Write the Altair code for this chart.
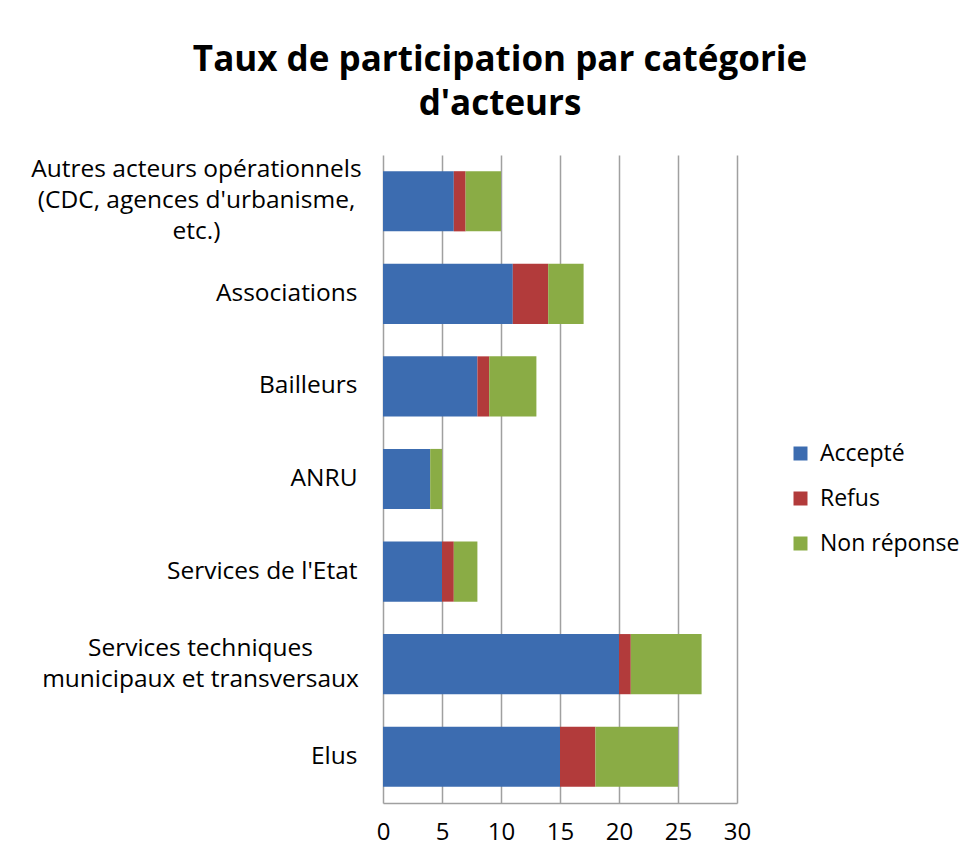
import altair as alt
import pandas as pd

categories = [
    "Autres acteurs opérationnels|(CDC, agences d'urbanisme,|etc.)",
    "Associations",
    "Bailleurs",
    "ANRU",
    "Services de l'Etat",
    "Services techniques|municipaux et transversaux",
    "Elus",
]
series = ["Accepté", "Refus", "Non réponse"]
accepte = [6, 11, 8, 4, 5, 20, 15]
refus = [1, 3, 1, 0, 1, 1, 3]
non_reponse = [3, 3, 4, 1, 2, 6, 7]
colors = ["#3C6CB0", "#B23B3B", "#8AAC45"]

rows = []
for vals, s, k in [(accepte, series[0], 0), (refus, series[1], 1), (non_reponse, series[2], 2)]:
    for c, v in zip(categories, vals):
        rows.append({"cat": c, "serie": s, "val": v, "ord": k})
df = pd.DataFrame(rows)

FONT = "Open Sans"
NLINES = "length(split(datum.value, '|'))"

chart = alt.Chart(df).mark_bar().encode(
    y=alt.Y("cat:N", sort=categories, title=None,
            scale=alt.Scale(paddingInner=0.35, paddingOuter=0.175),
            axis=alt.Axis(
                labelExpr="split(datum.label, '|')", labelFontSize=24.5,
                labelFont=FONT, labelColor="#000000",
                labelAlign={"condition": {"test": NLINES + " > 1", "value": "center"},
                            "value": "right"},
                labelPadding={"condition": [
                    {"test": NLINES + " == 3", "value": 187},
                    {"test": NLINES + " == 2", "value": 183}],
                    "value": 26},
                labelOffset={"condition": [
                    {"test": NLINES + " == 3", "value": -31},
                    {"test": NLINES + " == 2", "value": -15}],
                    "value": 0},
                labelLineHeight=31, ticks=False, domain=False, grid=False,
                labelLimit=500)),
    x=alt.X("val:Q", stack="zero", title=None,
            scale=alt.Scale(domain=[0, 30]),
            axis=alt.Axis(values=[0, 5, 10, 15, 20, 25, 30], labelFontSize=24,
                          labelFont=FONT, labelColor="#000000", labelPadding=17,
                          labelFlush=False,
                          ticks=False, domain=True, domainColor="#a0a0a0",
                          domainWidth=1.5, grid=True, gridColor="#a0a0a0",
                          gridWidth=1.5)),
    color=alt.Color("serie:N", sort=series,
                    scale=alt.Scale(domain=series, range=colors),
                    legend=alt.Legend(title=None, orient="none", legendX=406, legendY=287,
                                      symbolType="square", symbolSize=196,
                                      symbolStrokeWidth=0, labelFontSize=23,
                                      labelFont=FONT, labelColor="#000000",
                                      rowPadding=21, labelOffset=8)),
    order=alt.Order("ord:Q"),
).properties(
    width=354,
    height=648,
    title=alt.TitleParams(
        text=["Taux de participation par catégorie", "d'acteurs"],
        fontSize=35, font=FONT, fontWeight="bold", color="#000000",
        anchor="middle", dx=-60, offset=33, lineHeight=44,
    ),
    autosize=alt.AutoSizeParams(type="none"),
    padding={"left": 375, "top": 147, "right": 231, "bottom": 47},
).configure_view(stroke=None)

chart.save("out.html", embed_options={"renderer": "svg", "actions": False})
